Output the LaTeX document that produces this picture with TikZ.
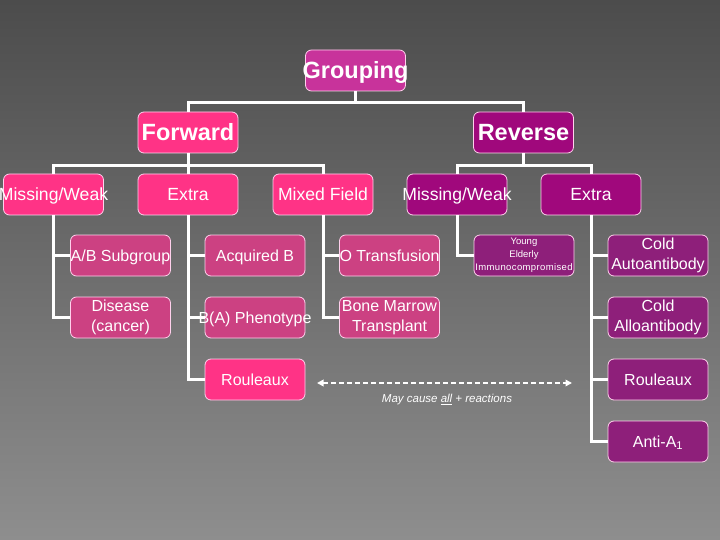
\documentclass[tikz,border=0pt]{standalone}
\usepackage{fontspec}
\setmainfont{Liberation Sans}
\usetikzlibrary{arrows.meta}
\definecolor{bgtop}{HTML}{4C4C4C}
\definecolor{bgbot}{HTML}{8E8E8E}
\definecolor{grp}{HTML}{C8339B}
\definecolor{fwd}{HTML}{FF3386}
\definecolor{rev}{HTML}{A0087C}
\definecolor{fsub}{HTML}{CC4182}
\definecolor{rsub}{HTML}{8E1F7A}
\definecolor{edge}{HTML}{FFD0EC}
\tikzset{
  box/.style={draw=edge, line width=0.8pt, rounded corners=6pt, minimum width=100pt, minimum height=41pt, inner sep=0pt, text=white, align=center, font=\fontsize{16}{20}\selectfont},
  one/.style={text height=11.5pt, text depth=0pt},
  mid/.style={box, text height=12.6pt, text depth=0pt, font=\fontsize{17.6}{21}\selectfont},
  big/.style={box, text height=16.8pt, text depth=0pt, font=\fontsize{23.5}{27}\selectfont\bfseries},
  conn/.style={draw=white, line width=3pt},
  dasharrow/.style={draw=white, line width=1.8pt, dash pattern=on 5pt off 3pt, {Triangle[length=6.5pt,width=6.5pt]}-{Triangle[length=6.5pt,width=6.5pt]}}
}
\newcommand{\zw}[1]{\makebox[0pt][c]{#1}}
\begin{document}
\begin{tikzpicture}[x=1pt,y=-1pt]
\shade[top color=bgtop, bottom color=bgbot] (0,0) rectangle (720,540);
\useasboundingbox (0,0) rectangle (720,540);
% nodes
\node[big, fill=grp] (G) at (355.5,70.5) {\zw{Grouping}};
\node[big, fill=fwd] (F) at (188,132.5) {Forward};
\node[big, fill=rev] (R) at (523.5,132.5) {Reverse};
\node[mid, fill=fwd] (FMW) at (53.5,194.5) {\zw{Missing/Weak}};
\node[mid, fill=fwd] (FEX) at (188,194.5) {Extra};
\node[mid, fill=fwd] (FMF) at (323,194.5) {Mixed Field};
\node[mid, fill=rev] (RMW) at (457,194.5) {\zw{Missing/Weak}};
\node[mid, fill=rev] (REX) at (591,194.5) {Extra};
\node[box, one, fill=fsub] (AB) at (120.5,255.5) {\zw{A/B Subgroup}};
\node[box, one, fill=fsub] (ACQ) at (255,255.5) {Acquired B};
\node[box, one, fill=fsub] (OT) at (389.5,255.5) {\zw{O Transfusion}};
\node[box, fill=rsub, font=\fontsize{9.5}{12.8}\selectfont] (YE) at (524,255.5) {Young\\Elderly\\\addfontfeatures{LetterSpace=4}Immunocompromised};
\node[box, fill=rsub] (CAU) at (658,255.5) {Cold\\Autoantibody};
\node[box, fill=fsub] (DIS) at (120.5,317.5) {Disease\\(cancer)};
\node[box, one, fill=fsub] (BA) at (255,317.5) {\zw{B(A) Phenotype}};
\node[box, fill=fsub] (BM) at (389.5,317.5) {Bone Marrow\\Transplant};
\node[box, fill=rsub] (CAL) at (658,317.5) {Cold\\Alloantibody};
\node[box, one, fill=fwd] (RL) at (255,379.5) {Rouleaux};
\node[box, one, fill=rsub] (RR) at (658,379.5) {Rouleaux};
\node[box, one, fill=rsub] (AA) at (658,441.5) {Anti-A\textsubscript{1}};
% connectors
\draw[conn] (G.south) -- ++(0,11) -| (F.north);
\draw[conn] (G.south) -- ++(0,11) -| (R.north);
\draw[conn] (F.south) -- ++(0,12) -| (FMW.north);
\draw[conn] (F.south) -- ++(0,12) -| (FMF.north);
\draw[conn] (F.south) -- (FEX.north);
\draw[conn] (R.south) -- ++(0,12) -| (RMW.north);
\draw[conn] (R.south) -- ++(0,12) -| (REX.north);
\draw[conn] (FMW.south) |- (AB.west);
\draw[conn] (FMW.south) |- (DIS.west);
\draw[conn] (FEX.south) |- (ACQ.west);
\draw[conn] (FEX.south) |- (BA.west);
\draw[conn] (FEX.south) |- (RL.west);
\draw[conn] (FMF.south) |- (OT.west);
\draw[conn] (FMF.south) |- (BM.west);
\draw[conn] (RMW.south) |- (YE.west);
\draw[conn] (REX.south) |- (CAU.west);
\draw[conn] (REX.south) |- (CAL.west);
\draw[conn] (REX.south) |- (RR.west);
\draw[conn] (REX.south) |- (AA.west);
% dashed arrow
\coordinate (DL) at (317,383);
\coordinate (DR) at (572,383);
\draw[dasharrow] (DL) -- (DR);
\node[text=white, font=\fontsize{11.5}{13}\selectfont\itshape] (NOTE) at (447,400) {May cause \underline{all} + reactions};
\end{tikzpicture}
\end{document}
